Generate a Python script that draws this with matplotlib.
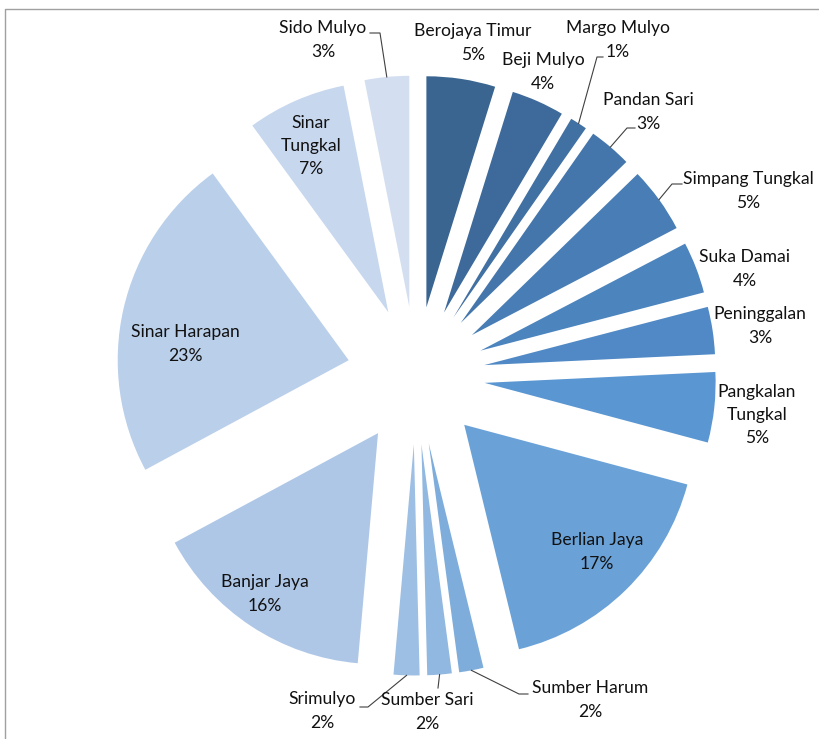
import matplotlib
matplotlib.use("Agg")
import matplotlib.pyplot as plt
import numpy as np

# slice data, clockwise from 12 o'clock
names = ["Berojaya Timur", "Beji Mulyo", "Margo Mulyo", "Pandan Sari", "Simpang Tungkal",
         "Suka Damai", "Peninggalan", "Pangkalan\nTungkal", "Berlian Jaya", "Sumber Harum",
         "Sumber Sari", "Srimulyo", "Banjar Jaya", "Sinar Harapan", "Sinar\nTungkal", "Sido Mulyo"]
values = [4.8, 3.7, 1.2, 3.0, 4.6, 3.6, 3.3, 4.9, 17.0, 1.7, 1.7, 1.8, 15.7, 22.8, 6.9, 3.1]

colors = ["#3a6591", "#3d6a9a", "#4170a3", "#4476ac", "#487db5", "#4c84be", "#5089c5", "#5a96d2",
          "#6aa2d8", "#7eaddc", "#91b8e0", "#9dbfe3", "#aec7e7", "#bacfea", "#c7d7ee", "#d3dff0"]

# label centres (pixels) and leader lines: index -> (text side x, elbow x, elbow y)
label_pos = [(473, 43), (543, 72), (618, 40), (648, 112), (748, 191), (745, 269), (760, 326),
             (757, 415), (597, 552), (590, 700), (427, 712), (322, 711), (265, 594), (185, 344),
             (311, 146), (323, 40)]
leaders = {2: (603, 597, 57), 3: (635, 627, 128), 4: (682, 672, 184), 9: (528, 519, 694),
           10: (438, 438, 688), 11: (360, 368, 707), 15: (370, 380, 33)}

W, H = 820, 739
radius = 231
explode_px = 69
center = (416, 375.5)

plt.rcParams['font.family'] = ['Lato', 'DejaVu Sans']

fig = plt.figure(figsize=(W / 100, H / 100), dpi=100)
ax = fig.add_axes([0, 0, 1, 1])

# y axis runs downward, so counterclockwise in data = clockwise on screen
wedges, _ = ax.pie(values, colors=colors, startangle=270, counterclock=True,
                   radius=radius, center=center, explode=[explode_px] * len(values),
                   wedgeprops=dict(linewidth=0))

total = sum(values)
for i, w in enumerate(wedges):
    pct = f"{values[i] / total * 100:.0f}%"
    x, y = label_pos[i]
    ax.text(x, y, f"{names[i]}\n{pct}", ha='center', va='center', fontsize=12.6,
            color='#111111', linespacing=1.55)
    if i in leaders:
        tx, ex, ey = leaders[i]
        mid = np.deg2rad((w.theta1 + w.theta2) / 2)
        px_, py_ = w.center[0] + w.r * np.cos(mid), w.center[1] + w.r * np.sin(mid)
        ax.plot([tx, ex, px_], [ey, ey, py_], color='#404040', lw=0.8)

# chart area frame (cropped on right and bottom)
ax.plot([5.5, 5.5, W], [H, 8.5, 8.5], color='#a0a0a0', lw=1)

ax.set_xlim(0, W)
ax.set_ylim(H, 0)
ax.set_aspect('equal')
ax.axis('off')

fig.savefig("out.png", dpi=100, facecolor='white')
